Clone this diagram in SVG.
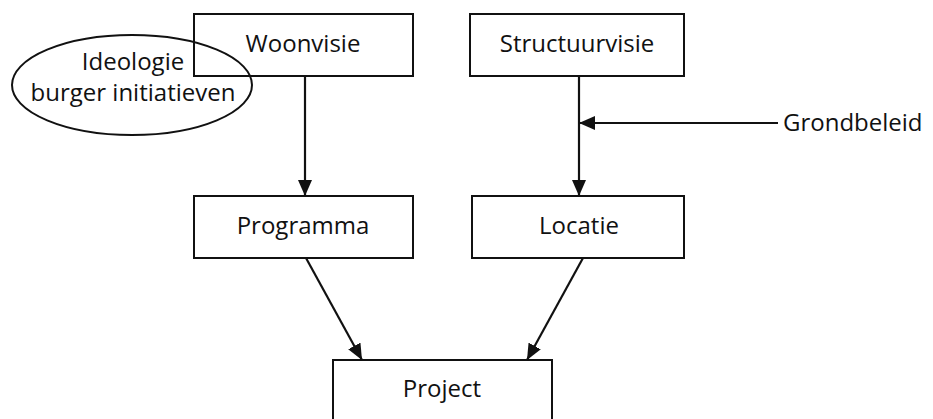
<svg xmlns="http://www.w3.org/2000/svg" width="933" height="419" viewBox="0 0 933 419">
<style>
.box{fill:none;stroke:#111;stroke-width:2}
.lbl{font-family:"Open Sans","DejaVu Sans",sans-serif;font-size:24px;fill:#111;text-anchor:middle}
.con{stroke:#111;stroke-width:2.2;fill:none;marker-end:url(#ah)}
</style>
<defs>
<marker id="ah" viewBox="0 0 16 14" refX="16" refY="7" markerWidth="16" markerHeight="14" markerUnits="userSpaceOnUse" orient="auto">
<path d="M0,0 L16,7 L0,14 Z" fill="#111"/>
</marker>
</defs>
<rect width="933" height="419" fill="#fff"/>
<g id="ideologie">
<ellipse cx="132" cy="85" rx="120" ry="50" class="box"/>
<text x="133" y="70" class="lbl">Ideologie</text>
<text x="133" y="101" class="lbl">burger initiatieven</text>
</g>
<g id="woonvisie">
<rect x="194" y="14" width="219" height="62" class="box"/>
<text x="303" y="52" class="lbl">Woonvisie</text>
</g>
<g id="structuurvisie">
<rect x="470" y="14" width="214" height="62" class="box"/>
<text x="577" y="52" class="lbl">Structuurvisie</text>
</g>
<g id="programma">
<rect x="194" y="196" width="219" height="62" class="box"/>
<text x="303" y="234" class="lbl">Programma</text>
</g>
<g id="locatie">
<rect x="472" y="196" width="212" height="62" class="box"/>
<text x="579" y="234" class="lbl">Locatie</text>
</g>
<g id="project">
<rect x="333" y="360" width="219" height="70" class="box"/>
<text x="442" y="397" class="lbl">Project</text>
</g>
<g id="grondbeleid">
<text x="783" y="131" class="lbl" style="text-anchor:start">Grondbeleid</text>
</g>
<g id="connectors">
<line x1="305" y1="76" x2="305" y2="196" class="con"/>
<line x1="579" y1="76" x2="579" y2="196" class="con"/>
<line x1="778" y1="123" x2="579" y2="123" class="con"/>
<line x1="306" y1="258" x2="362" y2="360" class="con"/>
<line x1="583" y1="258" x2="527" y2="360" class="con"/>
</g>
</svg>
